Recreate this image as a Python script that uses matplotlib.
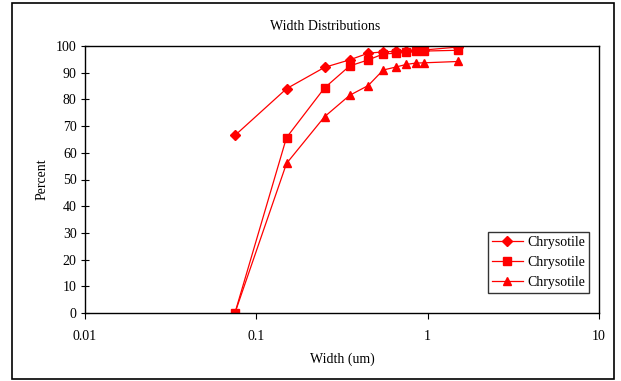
import matplotlib.pyplot as plt
from matplotlib.patches import Rectangle
from matplotlib.ticker import FixedLocator, NullLocator, FixedFormatter

plt.rcParams['font.family'] = ['Liberation Serif', 'DejaVu Serif']

width = [0.075, 0.15, 0.25, 0.35, 0.45, 0.55, 0.65, 0.75, 0.85, 0.95, 1.5]
diamond = [66.5, 84.0, 92.0, 94.8, 97.3, 97.8, 98.0, 98.3, 98.4, 98.5, 99.6]
square = [0.0, 65.7, 84.3, 92.5, 94.8, 97.0, 97.3, 97.6, 98.0, 98.1, 98.4]
triangle = [0.0, 56.0, 73.5, 81.5, 85.2, 91.0, 92.1, 93.1, 93.6, 93.7, 94.2]

xticks = [0.01, 0.1, 1, 10]
xticklabels = ["0.01", "0.1", "1", "10"]
yticks = list(range(0, 101, 10))

fig = plt.figure(figsize=(6.21, 3.81), dpi=100)
ax = fig.add_axes([85/621, 1-313/381, (599-85)/621, (313-46)/381])

ax.plot(width, diamond, color='red', marker='D', markersize=5, lw=0.9, label='Chrysotile')
ax.plot(width, square, color='red', marker='s', markersize=5.5, lw=0.9, label='Chrysotile')
ax.plot(width, triangle, color='red', marker='^', markersize=6, lw=0.9, label='Chrysotile')

ax.set_xscale('log')
ax.set_xlim(0.01, 10)
ax.set_ylim(0, 100)
ax.xaxis.set_major_locator(FixedLocator(xticks))
ax.xaxis.set_major_formatter(FixedFormatter(xticklabels))
ax.xaxis.set_minor_locator(NullLocator())
ax.set_yticks(yticks)
ax.tick_params(axis='y', direction='inout', length=6, width=0.8, labelsize=10, pad=3)
ax.tick_params(axis='x', direction='out', length=4, width=0.8, labelsize=10, pad=8)
for s in ax.spines.values():
    s.set_linewidth(1.0)
    s.set_color('black')

ax.set_xlabel("Width (um)", fontsize=10, labelpad=7)
ax.set_ylabel("Percent", fontsize=10, labelpad=5)
fig.text(325/621, 1-27/381, "Width Distributions", ha='center', va='center', fontsize=10)

leg = ax.legend(loc='upper left', bbox_to_anchor=(488/621, 1-232/381), bbox_transform=fig.transFigure,
                fontsize=10, frameon=True, fancybox=False, edgecolor='black', handlelength=2.2,
                borderpad=0.3, labelspacing=0.5, handletextpad=0.3, borderaxespad=0)
leg.get_frame().set_linewidth(1.0)

fig.patches.append(Rectangle((12/621, 1-379/381), (614-12)/621, (379-3)/381, transform=fig.transFigure,
                             fill=False, edgecolor='black', linewidth=1.2))

plt.savefig("out.png", dpi=100)
